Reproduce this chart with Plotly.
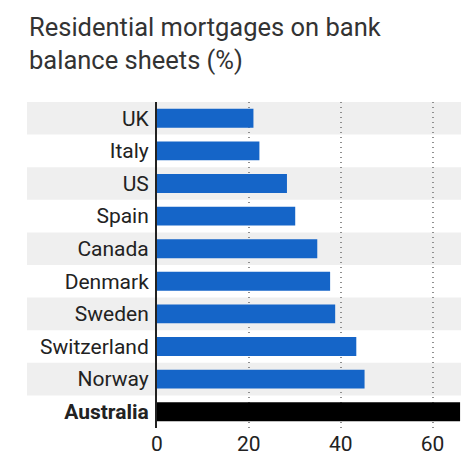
import plotly.graph_objects as go

countries = ["UK", "Italy", "US", "Spain", "Canada", "Denmark", "Sweden",
             "Switzerland", "Norway", "Australia"]
values = [21.0, 22.3, 28.3, 30.1, 34.9, 37.7, 38.8, 43.4, 45.2, 66.0]
tick_vals = [0, 20, 40, 60]
tick_text = ["0", "20", "40", "60"]
title_text = "Residential mortgages on bank<br>balance sheets (%)"

labels = ["<b>" + c + "</b>" if c == "Australia" else c for c in countries]
colors = ["#000000" if c == "Australia" else "#1565c8" for c in countries]

W, H = 466, 459
ml, mr, mt, mb = 157, 5, 102, 31
pw = W - ml - mr
ph = H - mt - mb

fig = go.Figure(go.Bar(
    x=values, y=labels, orientation="h",
    marker=dict(color=colors, line=dict(width=0)),
    width=0.58,
))

shapes = []
for i, lab in enumerate(labels):
    if i % 2 == 0:
        shapes.append(dict(
            type="rect", xref="paper", yref="y",
            x0=(27 - ml) / pw, x1=1,
            y0=i - 0.5, y1=i + 0.5,
            fillcolor="#efefef", line=dict(width=0), layer="below",
        ))

fig.update_layout(
    width=W, height=H,
    margin=dict(l=ml, r=mr, t=mt, b=mb, autoexpand=False),
    paper_bgcolor="white", plot_bgcolor="rgba(0,0,0,0)",
    showlegend=False,
    shapes=shapes,
    font=dict(family="Roboto", color="#222222", size=21),
    annotations=[dict(
        text=title_text, xref="paper", yref="paper",
        x=(27 - ml) / pw, y=1 + (mt - 10) / ph,
        xanchor="left", yanchor="top", align="left", showarrow=False,
        font=dict(family="Roboto", size=25.5, color="#333333"),
    )],
    xaxis=dict(
        range=[0, 66.2], tickvals=tick_vals, ticktext=tick_text,
        showgrid=True, gridcolor="#8f8f8f", griddash="1px,4px", gridwidth=1.5,
        zeroline=False, showline=False, ticks="", ticklabelstandoff=1,
        automargin=False,
        tickfont=dict(size=21, color="#222222"), fixedrange=True,
    ),
    yaxis=dict(
        autorange="reversed", showgrid=False, zeroline=False,
        showline=True, linecolor="#222222", linewidth=2,
        ticks="outside", ticklen=2, tickcolor="rgba(0,0,0,0)",
        automargin=False,
        tickfont=dict(size=21, color="#222222"),
    ),
)

fig.write_html("out.html")
